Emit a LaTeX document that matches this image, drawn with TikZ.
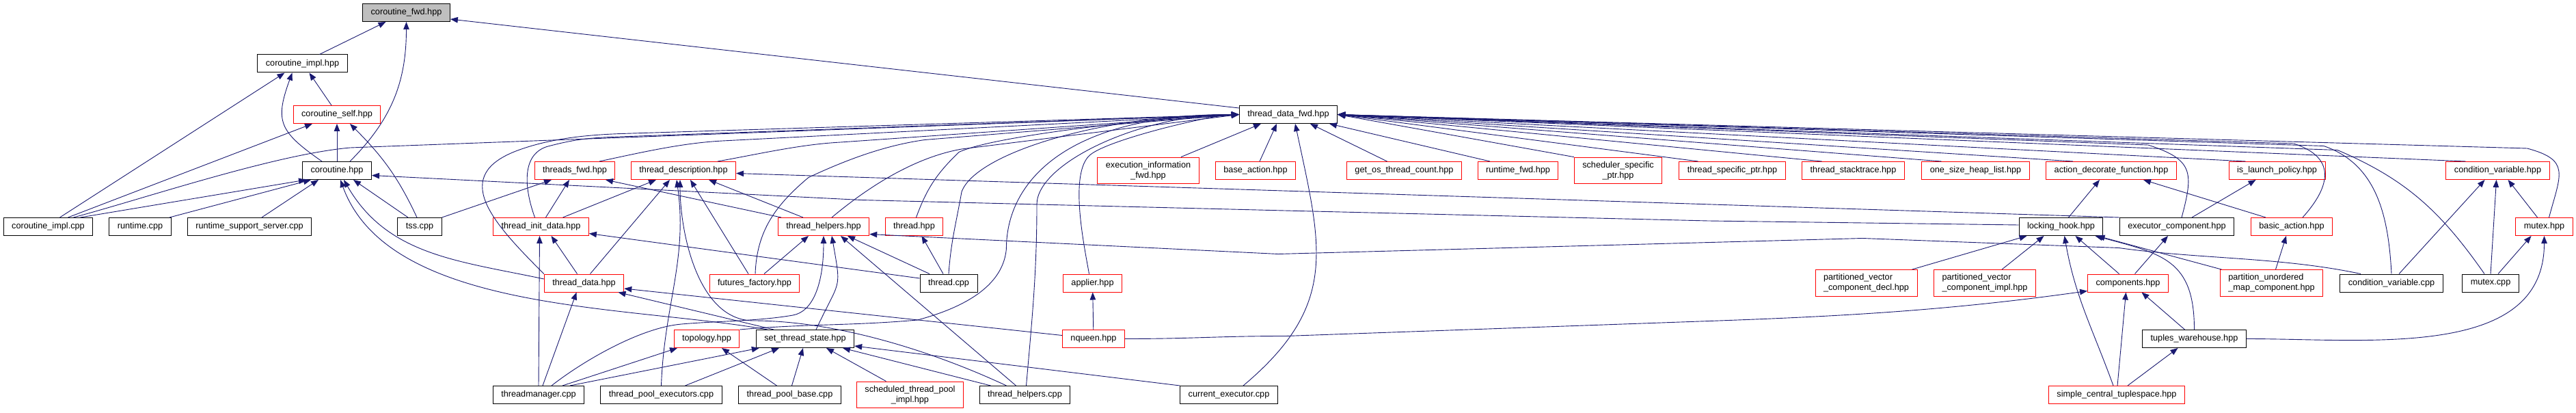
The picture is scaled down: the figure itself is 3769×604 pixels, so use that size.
\documentclass[tikz,border=0pt]{standalone}
\usepackage{fontspec}
\setmainfont{Liberation Sans}
\usetikzlibrary{arrows.meta}
\definecolor{depblue}{HTML}{191970}
\definecolor{cutred}{HTML}{FF0000}
\definecolor{rootgray}{HTML}{BFBFBF}

\begin{document}
\begin{tikzpicture}[
  x=1pt, y=-1pt,
  font=\fontsize{12.7}{15}\selectfont,
  filebox/.style={
    draw=black, fill=white, line width=1pt,
    minimum height=26pt, inner xsep=12pt, inner ysep=6pt, align=center
  },
  cutbox/.style={filebox, draw=cutred},
  rootbox/.style={filebox, fill=rootgray},
  dep/.style={-{Triangle[length=11pt,width=8.5pt]}, line width=0.9pt, draw=depblue}
]
\useasboundingbox (0,0) rectangle (3769,604);

% Ranks, top to bottom
\node[rootbox] (cfwd) at (594.5,18.5) {coroutine\_fwd.hpp};
\node[filebox] (cimplh) at (442.5,93) {coroutine\_impl.hpp};
\node[cutbox] (cself) at (493,167.5) {coroutine\_self.hpp};
\node[filebox] (tdfwd) at (1885,167.5) {thread\_data\_fwd.hpp};

\node[filebox] (coro) at (493,249.5) {coroutine.hpp};
\node[cutbox] (thfwd) at (841,249.5) {threads\_fwd.hpp};
\node[cutbox] (tdesc) at (1000,249.5) {thread\_description.hpp};
\node[cutbox] (einfo) at (1680,249.5) {execution\_information\\\_fwd.hpp};
\node[cutbox] (bact) at (1837,249.5) {base\_action.hpp};
\node[cutbox] (getos) at (2054.5,249.5) {get\_os\_thread\_count.hpp};
\node[cutbox] (rtfwd) at (2221,249.5) {runtime\_fwd.hpp};
\node[cutbox] (sched) at (2367.5,249.5) {scheduler\_specific\\\_ptr.hpp};
\node[cutbox] (tsptr) at (2534.5,249.5) {thread\_specific\_ptr.hpp};
\node[cutbox] (tstack) at (2711.5,249.5) {thread\_stacktrace.hpp};
\node[cutbox] (heap) at (2890.5,249.5) {one\_size\_heap\_list.hpp};
\node[cutbox] (adf) at (3089,249.5) {action\_decorate\_function.hpp};
\node[cutbox] (ilp) at (3331.5,249.5) {is\_launch\_policy.hpp};
\node[cutbox] (cvh) at (3654.5,249.5) {condition\_variable.hpp};

\node[filebox] (cimplc) at (70.5,331.5) {coroutine\_impl.cpp};
\node[filebox] (rtcpp) at (205,331.5) {runtime.cpp};
\node[filebox] (rss) at (365,331.5) {runtime\_support\_server.cpp};
\node[filebox] (tss) at (614,331.5) {tss.cpp};
\node[cutbox] (tinit) at (791.5,331.5) {thread\_init\_data.hpp};
\node[cutbox] (thelp) at (1205,331.5) {thread\_helpers.hpp};
\node[cutbox] (thread) at (1337.5,331.5) {thread.hpp};
\node[filebox] (lhook) at (3015.5,331.5) {locking\_hook.hpp};
\node[filebox] (exec) at (3185,331.5) {executor\_component.hpp};
\node[cutbox] (bacth) at (3353,331.5) {basic\_action.hpp};
\node[cutbox] (mutexh) at (3722.5,331.5) {mutex.hpp};

\node[cutbox] (tdata) at (854.5,414) {thread\_data.hpp};
\node[cutbox] (ffact) at (1104,414) {futures\_factory.hpp};
\node[filebox] (thcpp) at (1388,414) {thread.cpp};
\node[cutbox] (applier) at (1598.5,414) {applier.hpp};
\node[cutbox, align=left] (pvdecl) at (2730.5,414) {partitioned\_vector\\\_component\_decl.hpp};
\node[cutbox, align=left] (pvimpl) at (2904,414) {partitioned\_vector\\\_component\_impl.hpp};
\node[cutbox] (comps) at (3113.5,414) {components.hpp};
\node[cutbox, align=left] (pumap) at (3323.5,414) {partition\_unordered\\\_map\_component.hpp};
\node[filebox] (cvcpp) at (3499,414) {condition\_variable.cpp};
\node[filebox] (mutexc) at (3644,414) {mutex.cpp};

\node[cutbox] (topo) at (1034,495.5) {topology.hpp};
\node[filebox] (sts) at (1178,495.5) {set\_thread\_state.hpp};
\node[cutbox] (nqueen) at (1600,495.5) {nqueen.hpp};
\node[filebox] (tware) at (3210.5,495.5) {tuples\_warehouse.hpp};

\node[filebox] (tmgr) at (788,577.5) {threadmanager.cpp};
\node[filebox] (tpexec) at (967.5,577.5) {thread\_pool\_executors.cpp};
\node[filebox] (tpbase) at (1155.5,577.5) {thread\_pool\_base.cpp};
\node[cutbox] (stpi) at (1331.5,577.5) {scheduled\_thread\_pool\\\_impl.hpp};
\node[filebox] (thcpp2) at (1499.5,577.5) {thread\_helpers.cpp};
\node[filebox] (curex) at (1798,577.5) {current\_executor.cpp};
\node[cutbox] (sct) at (3097,577.5) {simple\_central\_tuplespace.hpp};

% coroutine_fwd.hpp
\draw[dep] ([xshift=25pt]cimplh.north) -- ([xshift=-30pt]cfwd.south);
\draw[dep] ([xshift=19pt]coro.north) to[out=45,in=-90,distance=87pt] (cfwd.south);
\draw[dep] ([yshift=-4pt]tdfwd.north west) -- ([yshift=-9.5pt]cfwd.east);

% coroutine_impl.hpp and coroutine_self.hpp
\draw[dep] ([xshift=17pt]cimplc.north) -- ([xshift=-26pt]cimplh.south);
\draw[dep] ([xshift=-22pt]coro.north) to[out=145,in=-110,distance=76pt] ([xshift=-15pt]cimplh.south);
\draw[dep] ([xshift=-8pt]cself.north) -- ([xshift=10pt]cimplh.south);
\draw[dep] ([xshift=29pt]cimplc.north) -- ([xshift=-36pt]cself.south);
\draw[dep] (coro) -- (cself);
\draw[dep] ([xshift=-4pt]tss.north) to[out=115,in=-45,distance=66pt] ([xshift=19pt]cself.south);

% coroutine.hpp
\draw[dep] ([xshift=47pt]cimplc.north) -- ([xshift=-45pt]coro.south);
\draw[dep] ([xshift=43pt]rtcpp.north) -- ([xshift=-38pt]coro.south);
\draw[dep] ([xshift=18pt]rss.north) -- ([xshift=-27pt]coro.south);
\draw[dep] ([xshift=-17pt]tss.north) -- ([xshift=24pt]coro.south);
\draw[dep] ([yshift=6pt]tdata.west) to[out=168,in=-60,distance=128pt] ([xshift=10pt]coro.south);
\draw[dep] ([xshift=-55pt]sts.north) to[out=170,in=-70,distance=208pt] ([xshift=5pt]coro.south);
\draw[dep] ([yshift=2.5pt]lhook.west) -- ++(-454,-6) -- ++(-620,-15) -- ++(-620,-15.5)
  -- ([yshift=-7pt]coro.east);

% thread_data_fwd.hpp, from the left
\draw[dep] ([xshift=37pt]cimplc.north) to[out=15,in=185,distance=110pt] ++(405,-102) -- (tdfwd.west);
\draw[dep] (tdata.north west) to[out=135,in=200,distance=108pt] ++(-37,-181)
  to[out=20,in=182,distance=50pt] ++(150,-24) -- (tdfwd.west);
\draw[dep] ([xshift=-9pt]tinit.north) to[out=110,in=198,distance=41pt] ++(17.5,-103.5)
  to[out=15,in=182,distance=50pt] ++(120,-15) -- (tdfwd.west);
\draw[dep] ([xshift=36pt]thfwd.north) to[out=12,in=183,distance=60pt] ++(180,-30) -- (tdfwd.west);
\draw[dep] ([xshift=50pt]tdesc.north) to[out=10,in=183,distance=60pt] ++(180,-28) -- (tdfwd.west);
\draw[dep] ([xshift=12pt]thelp.north) to[out=40,in=190,distance=70pt] ++(190,-100) -- (tdfwd.west);
\draw[dep] ([xshift=1pt]ffact.north) to[out=88,in=-140,distance=63pt] ++(78,-141)
  to[out=25,in=188,distance=60pt] ++(170,-55) -- (tdfwd.west);
\draw[dep] ([xshift=3pt]thread.north) to[out=70,in=-136,distance=45pt] ++(62.5,-95.5)
  to[out=25,in=180,distance=65pt] (tdfwd.west);
\draw[dep] (thcpp.north) to[out=86,in=-100,distance=48pt] ++(19,-120)
  to[out=70,in=180,out distance=60pt,in distance=200pt] (tdfwd.west);
\draw[dep] ([xshift=-5pt]applier.north) to[out=100,in=-140,distance=41pt] ++(1.5,-174)
  to[out=40,in=180,distance=36pt] (tdfwd.west);
\draw[dep] ([xshift=2pt]thcpp2.north) to[out=85,in=-90,distance=100pt] ++(15.5,-265)
  to[out=90,in=180,out distance=60pt,in distance=145pt] (tdfwd.west);
\draw[dep] (topo.north east) to[out=5,in=185,distance=100pt] ++(260,-14)
  to[out=15,in=-95,out distance=80pt,in distance=50pt] ++(130,-104)
  to[out=90,in=180,out distance=100pt,in distance=250pt] (tdfwd.west);

% thread_data_fwd.hpp, from below
\draw[dep] ([xshift=48pt]einfo.north) -- ([xshift=-40pt]tdfwd.south);
\draw[dep] ([xshift=6pt]bact.north) -- ([xshift=-17pt]tdfwd.south);
\draw[dep] ([xshift=21pt]curex.north) to[out=40,in=-78,distance=184pt] ([xshift=10pt]tdfwd.south);
\draw[dep] ([xshift=-25pt]getos.north) -- ([xshift=32pt]tdfwd.south);
\draw[dep] ([xshift=-41pt]rtfwd.north) -- ([xshift=60pt]tdfwd.south);

% thread_data_fwd.hpp, from the right
\draw[dep] (sched.north west) -- (tdfwd.east);
\draw[dep] ([xshift=-50pt]tsptr.north) -- (tdfwd.east);
\draw[dep] ([xshift=-46pt]tstack.north) -- (tdfwd.east);
\draw[dep] ([xshift=-50pt]heap.north) -- (tdfwd.east);
\draw[dep] ([xshift=-56pt]adf.north) -- (tdfwd.east);
\draw[dep] ([xshift=-46pt]ilp.north) -- (tdfwd.east);
\draw[dep] ([xshift=-47pt]cvh.north) -- (tdfwd.east);
\draw[dep] ([xshift=7pt]exec.north) to[out=75,in=-18,distance=69pt] ++(-49,-106) -- (tdfwd.east);
\draw[dep] ([xshift=16pt]bacth.north) to[out=48,in=-18,distance=64pt] ++(-13,-108) -- (tdfwd.east);
\draw[dep] (cvcpp.north) to[out=93,in=-19,distance=83pt] ++(-99,-187) -- (tdfwd.east);
\draw[dep] ([xshift=-9pt]mutexc.north) to[out=125,in=-23,distance=110pt] ++(-215,-181) -- (tdfwd.east);
\draw[dep] ([xshift=7pt]mutexh.north) to[out=75,in=-15,distance=66pt] ++(-32,-101) -- (tdfwd.east);

% threads_fwd.hpp and thread_description.hpp
\draw[dep] ([xshift=7pt]tinit.north) -- ([xshift=-8pt]thfwd.south);
\draw[dep] (tss.north east) -- ([xshift=-34pt]thfwd.south);
\draw[dep] ([xshift=-62pt]thelp.north) -- ([xshift=45pt]thfwd.south);
\draw[dep] ([xshift=32pt]tinit.north) -- ([xshift=-40pt]tdesc.south);
\draw[dep] ([xshift=9pt]tdata.north) -- ([xshift=-20pt]tdesc.south);
\draw[dep] (tpexec.north) to[out=88,in=-82,distance=118pt] ([xshift=-10pt]tdesc.south);
\draw[dep] ([xshift=-27pt]thcpp2.north) to[out=155,in=0,distance=120pt] ++(-370,-95)
  to[out=180,in=-90,distance=80pt] ([xshift=-5pt]tdesc.south);
\draw[dep] ([xshift=-9pt]ffact.north) -- ([xshift=10pt]tdesc.south);
\draw[dep] ([xshift=-30pt]thelp.north) -- ([xshift=37pt]tdesc.south);
\draw[dep] (exec.north west) -- ([yshift=-4pt]tdesc.east);

% thread_helpers.hpp
\draw[dep] ([xshift=14pt]ffact.north) -- ([xshift=-22pt]thelp.south);
\draw[dep] ([xshift=19pt]tmgr.north) to[out=38,in=185,distance=60pt] ++(190,-90)
  to[out=5,in=190,distance=50pt] ++(163,-13)
  to[out=10,in=-90,out distance=30pt,in distance=70pt] (thelp.south);
\draw[dep] ([xshift=16pt]sts.north) to[out=65,in=-80,distance=83pt] ([xshift=12pt]thelp.south);
\draw[dep] ([xshift=-13pt]thcpp2.north) -- ([xshift=25pt]thelp.south);
\draw[dep] ([xshift=-28pt]thcpp.north) -- ([xshift=35pt]thelp.south);
\draw[dep] ([xshift=-45pt]cvcpp.north) to[out=168,in=-8,distance=120pt] ++(-354,-38)
  -- ++(-375,-14) -- ++(-855,23) -- ([yshift=-11pt]thelp.east);

% thread_init_data.hpp, thread.hpp and thread_data.hpp
\draw[dep] (tmgr.north) -- ([xshift=-2pt]tinit.south);
\draw[dep] ([xshift=-10pt]tdata.north) -- ([xshift=15pt]tinit.south);
\draw[dep] ([yshift=7pt]thcpp.west) -- ([yshift=-10pt]tinit.east);
\draw[dep] ([xshift=-8pt]thcpp.north) -- ([xshift=11pt]thread.south);
\draw[dep] ([xshift=6pt]tmgr.north) -- ([xshift=-11pt]tdata.south);
\draw[dep] ([xshift=-46pt]sts.north) -- ([xshift=50pt]tdata.south);
\draw[dep] ([yshift=5pt]nqueen.west) -- ([yshift=-8pt]tdata.east);

% topology.hpp and set_thread_state.hpp
\draw[dep] ([xshift=35pt]tmgr.north) -- ([xshift=-43pt]topo.south);
\draw[dep] ([xshift=-19pt]tpbase.north) -- ([xshift=22pt]topo.south);
\draw[dep] ([xshift=46pt]tmgr.north) -- ([xshift=5pt]sts.south west);
\draw[dep] ([xshift=35pt]tpexec.north) -- ([xshift=-38pt]sts.south);
\draw[dep] ([xshift=3pt]tpbase.north) -- ([xshift=-3pt]sts.south);
\draw[dep] ([xshift=-35pt]stpi.north) -- ([xshift=31pt]sts.south);
\draw[dep] ([xshift=-50pt]thcpp2.north) -- ([xshift=55pt]sts.south);
\draw[dep] (curex.north west) -- ([yshift=3pt]sts.south east);

% applier.hpp and components.hpp
\draw[dep] (nqueen) -- (applier);
\draw[dep] (nqueen.east) to[out=0,in=180,distance=100pt] ++(235,-4) -- ++(620,-22)
  to[out=2,in=188,distance=200pt] ([yshift=2pt]comps.south west);
\draw[dep] ([xshift=10pt]comps.north) -- ([xshift=-13pt]exec.south);
\draw[dep] ([xshift=1pt]sct.north) -- ([xshift=-3pt]comps.south);
\draw[dep] ([xshift=-14pt]tware.north) -- ([xshift=20pt]comps.south);

% locking_hook.hpp
\draw[dep] ([xshift=11pt]lhook.north) -- ([xshift=-17pt]adf.south);
\draw[dep] ([xshift=67pt]pvdecl.north) -- ([xshift=-50pt]lhook.south);
\draw[dep] ([xshift=25pt]pvimpl.north) -- ([xshift=-25pt]lhook.south);
\draw[dep] ([xshift=-5pt]sct.north) to[out=110,in=-80,distance=91pt] ([xshift=5pt]lhook.south);
\draw[dep] ([xshift=-13pt]comps.north) -- ([xshift=21pt]lhook.south);
\draw[dep] (tware.north) to[out=90,in=-15,distance=102pt] ([xshift=50pt]lhook.south);
\draw[dep] ([xshift=-73pt]pumap.north) -- ([xshift=53pt]lhook.south);

% tuples_warehouse.hpp, basic_action.hpp, is_launch_policy.hpp
\draw[dep] ([xshift=16pt]sct.north) -- ([xshift=-24pt]tware.south);
\draw[dep] (tware.east) to[out=0,in=-90,distance=181pt] (mutexh.south);
\draw[dep] ([xshift=22pt]exec.north) -- ([xshift=-31pt]ilp.south);
\draw[dep] ([xshift=-38pt]bacth.north) -- ([xshift=47pt]adf.south);
\draw[dep] ([xshift=6pt]pumap.north) -- ([xshift=-8pt]bacth.south);

% condition_variable.hpp and mutex.hpp
\draw[dep] ([xshift=11pt]cvcpp.north) -- ([xshift=-19pt]cvh.south);
\draw[dep] (mutexc.north) -- ([xshift=-2pt]cvh.south);
\draw[dep] ([xshift=11pt]mutexc.north) -- ([xshift=-19pt]mutexh.south);
\draw[dep] ([xshift=-10pt]mutexh.north) -- ([xshift=15pt]cvh.south);

\end{tikzpicture}
\end{document}
